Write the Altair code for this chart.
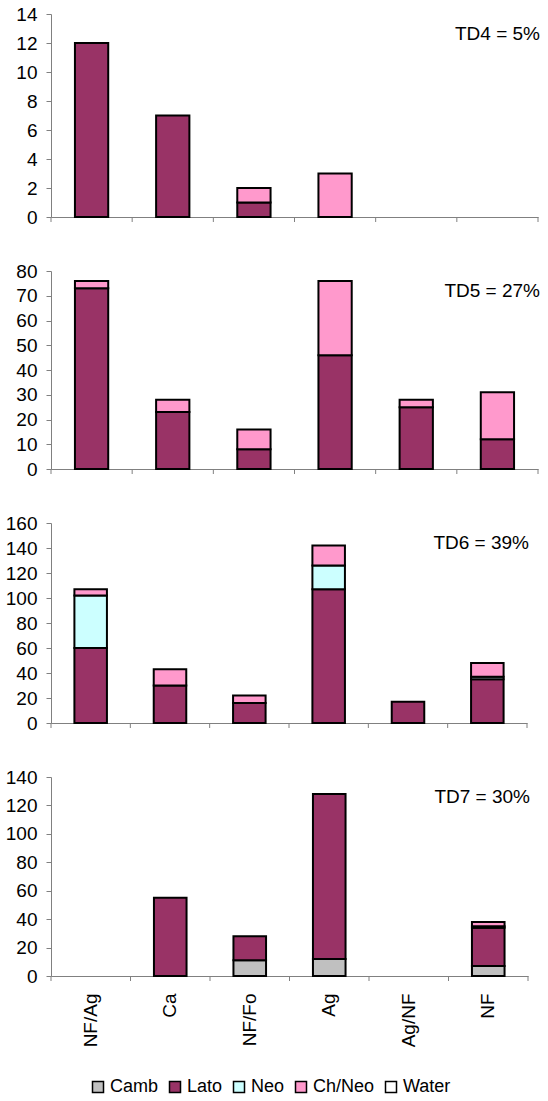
import altair as alt
import pandas as pd

# Land-use categories along the x axis
categories = ["NF/Ag", "Ca", "NF/Fo", "Ag", "Ag/NF", "NF"]
# Soil classes, bottom of the stack first
classes = ["Camb", "Lato", "Neo", "Ch/Neo", "Water"]
class_colors = ["#C0C0C0", "#993366", "#CCFFFF", "#FF99CC", "#FFFFFF"]

# Counts per class for each toposequence division (one value per category)
td4_lato = [12, 7, 1, 0, 0, 0]
td4_chneo = [0, 0, 1, 3, 0, 0]

td5_lato = [73, 23, 8, 46, 25, 12]
td5_chneo = [3, 5, 8, 30, 3, 19]

td6_lato = [60, 30, 16, 107, 17, 35]
td6_neo = [42, 0, 0, 19, 0, 2]
td6_chneo = [5, 13, 6, 16, 0, 11]

td7_camb = [0, 0, 11, 12, 0, 7]
td7_lato = [0, 55, 17, 116, 0, 27]
td7_neo = [0, 0, 0, 0, 0, 1]
td7_chneo = [0, 0, 0, 0, 0, 3]

FONT = "Liberation Sans"
FS = 19
AXIS_GRAY = "#808080"


def make_frame(series):
    rows = []
    for cls, vals in series.items():
        for cat, v in zip(categories, vals):
            if v > 0:
                rows.append({"cat": cat, "cls": cls, "count": v,
                             "ord": classes.index(cls)})
    return pd.DataFrame(rows)


color_enc = alt.Color(
    "cls:N",
    scale=alt.Scale(domain=classes, range=class_colors),
    legend=alt.Legend(
        title=None, orient="none", direction="horizontal",
        legendX=38, legendY=1064,
        symbolType="square", symbolSize=121,
        symbolStrokeColor="black", symbolStrokeWidth=1.5,
        labelFont=FONT, labelFontSize=18, labelColor="black",
        labelOffset=3, columnPadding=7,
    ),
)


def panel(series, ymax, step, w, h, label, bottom):
    df = make_frame(series)
    x_scale = alt.Scale(domain=categories, paddingInner=0, paddingOuter=0)
    if bottom:
        x_axis = alt.Axis(title=None, labelAngle=-90, labelAlign="right",
                          labelBaseline="middle", labelPadding=17,
                          ticks=False, domainColor=AXIS_GRAY,
                          labelFont=FONT, labelFontSize=FS, labelColor="black")
    else:
        x_axis = alt.Axis(title=None, labels=False, ticks=False,
                          domainColor=AXIS_GRAY)
    y_axis = alt.Axis(title=None, values=list(range(0, ymax + 1, step)),
                      grid=False, tickSize=5, tickColor=AXIS_GRAY,
                      domainColor=AXIS_GRAY, labelPadding=9,
                      labelFont=FONT, labelFontSize=FS, labelColor="black")

    bars = alt.Chart(df).mark_bar(
        stroke="black", strokeWidth=2, width=alt.RelativeBandSize(0.41)
    ).encode(
        x=alt.X("cat:N", sort=categories, scale=x_scale, axis=x_axis),
        y=alt.Y("count:Q", stack="zero",
                scale=alt.Scale(domain=[0, ymax], nice=False), axis=y_axis),
        color=color_enc,
        order=alt.Order("ord:Q"),
    )

    # category boundary ticks below the baseline
    tick_df = pd.DataFrame({"cat": categories})
    ticks_start = alt.Chart(tick_df).mark_rule(color=AXIS_GRAY).encode(
        x=alt.X("cat:N", sort=categories, bandPosition=0),
        y=alt.value(h), y2=alt.value(h + 5),
    )
    ticks_end = alt.Chart(tick_df.tail(1)).mark_rule(color=AXIS_GRAY).encode(
        x=alt.X("cat:N", sort=categories, bandPosition=1),
        y=alt.value(h), y2=alt.value(h + 5),
    )

    txt = alt.Chart(pd.DataFrame({"t": [label]})).mark_text(
        align="right", baseline="middle", font=FONT, fontSize=FS, color="black"
    ).encode(x=alt.value(w + 2), y=alt.value(20), text="t:N")

    return alt.layer(bars, ticks_start, ticks_end, txt).properties(width=w, height=h)


p4 = panel({"Lato": td4_lato, "Ch/Neo": td4_chneo}, 14, 2, 487, 203, "TD4 = 5%", False)
p5 = panel({"Lato": td5_lato, "Ch/Neo": td5_chneo}, 80, 10, 487, 198, "TD5 = 27%", False)
p6 = panel({"Lato": td6_lato, "Neo": td6_neo, "Ch/Neo": td6_chneo}, 160, 20, 476, 200,
           "TD6 = 39%", False)
p7 = panel({"Camb": td7_camb, "Lato": td7_lato, "Neo": td7_neo, "Ch/Neo": td7_chneo},
           140, 20, 477, 199, "TD7 = 30%", True)

chart = alt.vconcat(p4, p5, p6, p7, spacing=35).properties(
    padding={"left": 5, "top": 5, "right": 5, "bottom": 5}
).configure_view(stroke=None).configure_concat(spacing=35)

chart.save("out.html", embed_options={"renderer": "svg", "actions": False})
